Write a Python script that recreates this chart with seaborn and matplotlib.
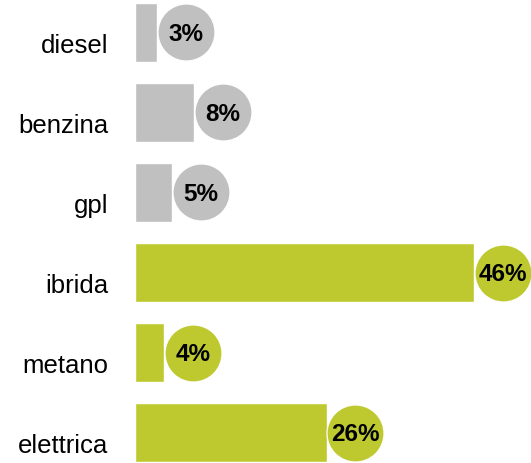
import matplotlib
matplotlib.use("Agg")
import matplotlib.pyplot as plt
import matplotlib.transforms as mtransforms
import seaborn as sns
import pandas as pd
from matplotlib import font_manager

categories = ["diesel", "benzina", "gpl", "ibrida", "metano", "elettrica"]
values = [3, 8, 5, 46, 4, 26]
groups = ["grigio", "grigio", "grigio", "verde", "verde", "verde"]
labels = ["3%", "8%", "5%", "46%", "4%", "26%"]

palette = {"grigio": "#c0c0c0", "verde": "#bdc92f"}

names = {f.name for f in font_manager.fontManager.ttflist}
narrow = "Liberation Sans Narrow" if "Liberation Sans Narrow" in names else "Liberation Sans"
pct_size = 21 if narrow == "Liberation Sans Narrow" else 17.5

df = pd.DataFrame({"cat": categories, "val": values, "grp": groups, "lab": labels})

sns.set_theme(style="white")
plt.rcParams["font.family"] = ["Liberation Sans", "DejaVu Sans"]

fig = plt.figure(figsize=(5.31, 4.63), dpi=100)
ax = fig.add_axes([135 / 531, 0, 396 / 531, 1])

sns.barplot(data=df, x="val", y="cat", hue="grp", palette=palette, orient="h",
            width=0.74, dodge=False, legend=False, ax=ax, saturation=1)

offset = 3.9
for i, (v, g, lab) in enumerate(zip(values, groups, labels)):
    ax.scatter(v + offset, i, s=1680, color=palette[g], edgecolor="white",
               linewidth=0.8, zorder=3)
    ax.text(v + offset, i + 0.02, lab, ha="center", va="center",
            fontsize=pct_size, fontweight="bold", family=[narrow, "DejaVu Sans"],
            color="black", zorder=4)

ax.set_xlim(0, 396 / 7.37)
ax.set_ylim((463 - 32.5) / 80, -32.5 / 80)
ax.set_xlabel("")
ax.set_ylabel("")
ax.set_xticks([])
ax.tick_params(axis="y", length=0, pad=19, labelsize=18.5, labelcolor="black")
shift = mtransforms.ScaledTranslation(0, -11 / 100, fig.dpi_scale_trans)
for t in ax.get_yticklabels():
    t.set_transform(t.get_transform() + shift)
for s in ax.spines.values():
    s.set_visible(False)

fig.savefig("out.png", dpi=100)
